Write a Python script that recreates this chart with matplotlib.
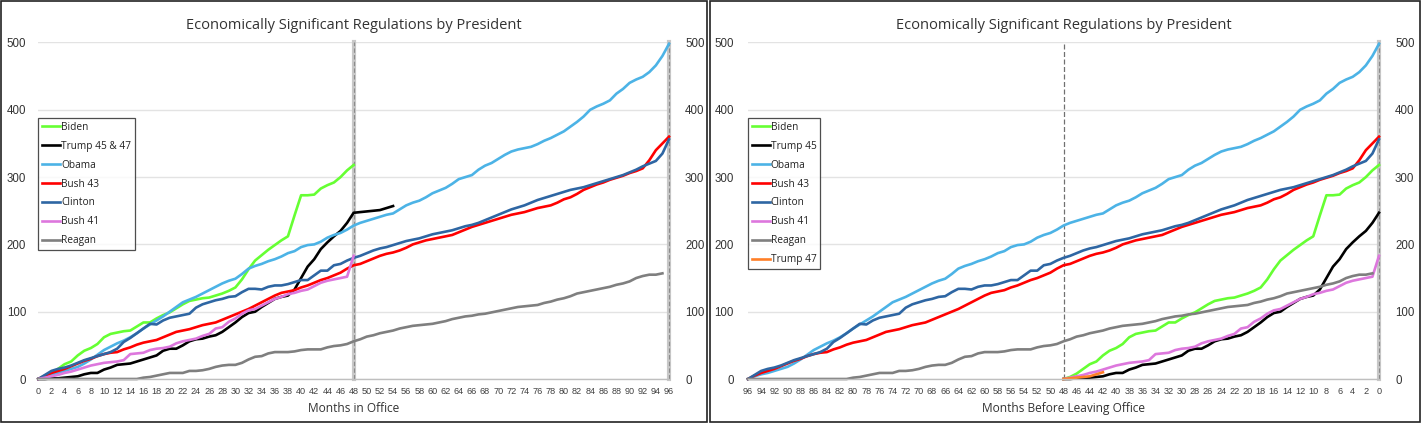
import matplotlib
matplotlib.use("Agg")
import matplotlib.pyplot as plt
from matplotlib.patches import Rectangle

# cumulative economically significant regulations, one value per month in office
biden = [0, 3, 8, 15, 22, 26, 35, 42, 46, 52, 62, 67, 69, 71, 72, 78, 84, 84, 90, 95,
         99, 105, 111, 116, 118, 120, 121, 124, 127, 131, 136, 148, 163, 176, 184, 192,
         199, 206, 212, 243, 273, 273, 274, 283, 288, 292, 300, 310, 318]
trump45 = [0, 0, 1, 1, 2, 3, 4, 7, 9, 9, 14, 17, 21, 22, 23, 26, 29, 32, 35, 42,
           45, 45, 50, 56, 59, 60, 63, 65, 70, 77, 84, 92, 98, 100, 107, 113, 119, 122,
           124, 133, 150, 167, 178, 193, 203, 212, 220, 232, 247]
trump47 = [0, 1, 2, 3, 4, 7, 10]
obama = [0, 4, 7, 9, 12, 15, 18, 23, 29, 36, 43, 48, 53, 57, 62, 68, 75, 81, 87, 93,
         100, 107, 114, 118, 122, 127, 132, 137, 142, 146, 149, 156, 164, 168, 171, 175,
         178, 182, 187, 190, 196, 199, 200, 204, 210, 214, 217, 222, 228,
         232, 235, 238, 241, 244, 246, 252, 258, 262, 265, 270, 276, 280, 284, 290, 297,
         300, 303, 311, 317, 321, 327, 333, 338, 341, 343, 345, 349, 354, 358, 363, 368,
         375, 382, 390, 400, 405, 409, 414, 424, 431, 440, 445, 449, 456, 466, 480, 498]
bush43 = [0, 5, 9, 12, 15, 19, 23, 27, 30, 34, 37, 39, 40, 44, 47, 51, 54, 56, 58, 62,
          66, 70, 72, 74, 77, 80, 82, 84, 88, 92, 96, 100, 104, 109, 114, 119, 124, 128,
          130, 132, 136, 139, 143, 147, 150, 154, 158, 164, 169,
          171, 175, 179, 183, 186, 188, 191, 195, 200, 203, 206, 208, 210, 212, 214, 218,
          222, 226, 229, 232, 235, 238, 241, 244, 246, 248, 251, 254, 256, 258, 262, 267,
          270, 275, 281, 285, 289, 292, 296, 299, 302, 306, 309, 313, 325, 340, 350, 360]
clinton = [0, 6, 12, 15, 17, 20, 24, 28, 31, 34, 37, 40, 45, 55, 61, 68, 75, 82, 81, 87,
           91, 93, 95, 97, 106, 111, 114, 117, 119, 122, 123, 129, 134, 134, 133, 137,
           139, 139, 141, 144, 147, 147, 154, 161, 161, 169, 171, 176, 180,
           183, 187, 191, 194, 196, 199, 202, 205, 207, 209, 212, 215, 217, 219, 221, 224,
           227, 229, 232, 236, 240, 244, 248, 252, 255, 258, 262, 266, 269, 272, 275, 278,
           281, 283, 285, 288, 291, 294, 297, 300, 303, 307, 311, 316, 320, 324, 335, 356]
bush41 = [0, 2, 4, 6, 9, 11, 14, 17, 20, 22, 24, 25, 26, 28, 37, 38, 39, 43, 45, 46,
          48, 53, 56, 58, 60, 64, 67, 75, 77, 85, 90, 97, 102, 104, 109, 114, 119, 122,
          126, 128, 131, 133, 138, 143, 146, 148, 150, 152, 183]
reagan = [0, 0, 0, 0, 0, 0, 0, 0, 0, 0, 0, 0, 0, 0, 0, 0, 2, 3, 5, 7,
          9, 9, 9, 12, 12, 13, 15, 18, 20, 21, 21, 24, 29, 33, 34, 38, 40, 40, 40, 41,
          43, 44, 44, 44, 47, 49, 50, 52, 56,
          59, 63, 65, 68, 70, 72, 75, 77, 79, 80, 81, 82, 84, 86, 89, 91, 93, 94, 96, 97,
          99, 101, 103, 105, 107, 108, 109, 110, 113, 115, 118, 120, 123, 127, 129, 131,
          133, 135, 137, 140, 142, 145, 150, 153, 155, 155, 157]

colors = {
    "Biden": "#66ff33",
    "Trump": "#000000",
    "Obama": "#4cb3e6",
    "Bush 43": "#ff0000",
    "Clinton": "#2e66a3",
    "Bush 41": "#dd77dd",
    "Reagan": "#7f7f7f",
    "Trump 47": "#ff7f27",
}

W, H = 1421, 423
fig = plt.figure(figsize=(W / 100, H / 100), dpi=100)
fig.patch.set_facecolor("white")

TICK_FONT = "Liberation Sans"
TITLE_FONT = "Open Sans"
LW = 1.9
PX = 0.72  # points per pixel at dpi 100


def style_axes(ax, title, xlabel, left_pad_px, right_pad_px):
    ax.set_ylim(0, 500)
    ax.set_yticks(range(0, 501, 100))
    ax.grid(axis="y", color="#e3e3e3", lw=1.0)
    ax.set_axisbelow(True)
    for s in ("top", "left", "right"):
        ax.spines[s].set_visible(False)
    ax.spines["bottom"].set_color("#bfbfbf")
    ax.spines["bottom"].set_linewidth(1.0)
    ax.set_xticks(range(0, 97, 2))
    ax.tick_params(axis="x", length=0, pad=6 * PX * 1.39, labelsize=6.6, labelcolor="#404040")
    ax.tick_params(axis="y", length=0, pad=left_pad_px * PX, labelsize=8.3,
                   labelcolor="#333333")
    for lab in ax.get_xticklabels() + ax.get_yticklabels():
        lab.set_fontfamily(TICK_FONT)
    ax.set_title(title, fontsize=10.5, fontfamily=TITLE_FONT, color="#333333", pad=10)
    ax.set_xlabel(xlabel, fontsize=8.6, fontfamily=TITLE_FONT, color="#333333", labelpad=4)
    # secondary y labels
    ax2 = ax.twinx()
    ax2.set_ylim(0, 500)
    ax2.set_yticks(range(0, 501, 100))
    ax2.tick_params(axis="y", length=0, pad=right_pad_px * PX, labelsize=8.3,
                    labelcolor="#333333")
    for lab in ax2.get_yticklabels():
        lab.set_fontfamily(TICK_FONT)
    for s in ax2.spines.values():
        s.set_visible(False)
    return ax2


def legend(ax, top_frac):
    leg = ax.legend(loc="upper left", bbox_to_anchor=(0.0, top_frac), frameon=True,
                    fancybox=False, edgecolor="#222222", handlelength=1.8,
                    handletextpad=0.1, labelspacing=0.78, borderpad=0.35,
                    borderaxespad=0.0, prop={"family": TITLE_FONT, "size": 7.3})
    leg.get_frame().set_linewidth(0.9)
    for t in leg.get_texts():
        t.set_color("#222222")


# ---------------- left: months in office ----------------
axL = fig.add_axes([38.3 / W, 1 - 379 / H, 630.7 / W, 336.5 / H])
axL.set_xlim(0, 96)
trump_all = trump45 + [trump45[-1] + v for v in trump47[1:]]
left_series = [("Biden", biden, "Biden"), ("Trump 45 & 47", trump_all, "Trump"),
               ("Obama", obama, "Obama"), ("Bush 43", bush43, "Bush 43"),
               ("Clinton", clinton, "Clinton"), ("Bush 41", bush41, "Bush 41"),
               ("Reagan", reagan, "Reagan")]
for name, vals, ckey in left_series:
    axL.plot(range(len(vals)), vals, color=colors[ckey], lw=LW, label=name,
             solid_joinstyle="round", clip_on=False)
for xv in (48, 96):
    axL.axvline(xv, color="#c8c8c8", lw=3.0, zorder=1.5, clip_on=False)
    axL.axvline(xv, color="#8c8c8c", lw=0.8, ls=(0, (4, 2)), zorder=1.6, clip_on=False)
style_axes(axL, "Economically Significant Regulations by President", "Months in Office", 12, 16)
legend(axL, (379 - 118.3) / 336.5)

# ---------------- right: months before leaving office ----------------
axR = fig.add_axes([748 / W, 1 - 379 / H, 631 / W, 336.5 / H])
axR.set_xlim(96, 0)
right_series = [("Biden", biden, "Biden", 48), ("Trump 45", trump45, "Trump", 48),
                ("Obama", obama, "Obama", 96), ("Bush 43", bush43, "Bush 43", 96),
                ("Clinton", clinton, "Clinton", 96), ("Bush 41", bush41, "Bush 41", 48),
                ("Reagan", reagan, "Reagan", 96), ("Trump 47", trump47, "Trump 47", 48)]
for name, vals, ckey, term in right_series:
    xs = [term - m for m in range(len(vals))]
    axR.plot(xs, vals, color=colors[ckey], lw=LW, label=name,
             solid_joinstyle="round", clip_on=False)
axR.axvline(48, color="#707070", lw=0.9, ls=(0, (4, 2)), zorder=1.6)
axR.axvline(0, color="#c8c8c8", lw=3.0, zorder=1.5, clip_on=False)
axR.axvline(0, color="#8c8c8c", lw=0.8, ls=(0, (4, 2)), zorder=1.6, clip_on=False)
style_axes(axR, "Economically Significant Regulations by President",
           "Months Before Leaving Office", 14, 16)
legend(axR, (379 - 118.3) / 336.5)

# panel borders
fig.add_artist(Rectangle((1 / W, 1 / H), 706 / W, 421 / H, transform=fig.transFigure,
                         fill=False, ec="#222222", lw=1.2))
fig.add_artist(Rectangle((710 / W, 1 / H), 709.5 / W, 421 / H, transform=fig.transFigure,
                         fill=False, ec="#222222", lw=1.2))

fig.savefig("out.png", dpi=100)
